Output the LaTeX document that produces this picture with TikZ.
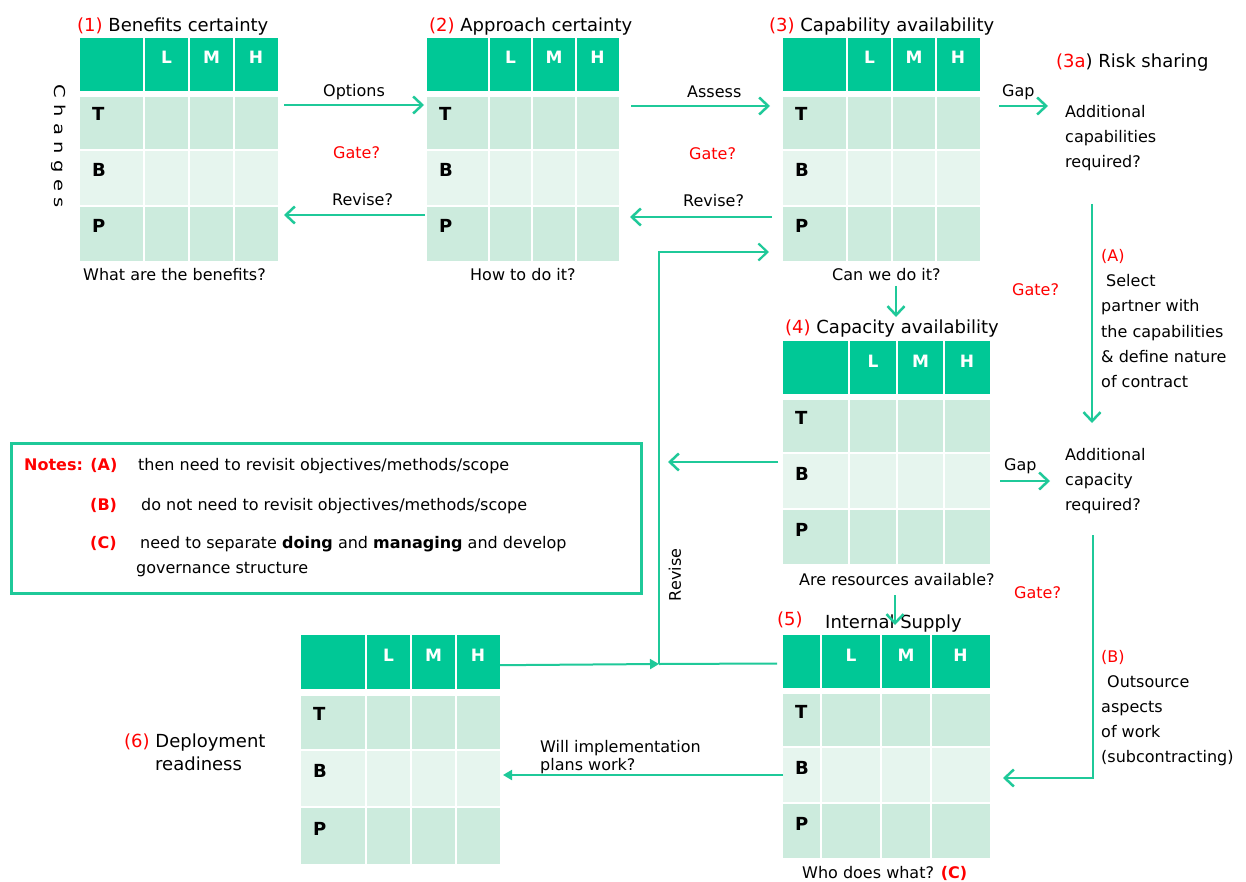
\documentclass[tikz,border=0pt]{standalone}
\usepackage{fontspec}
\setmainfont{DejaVu Sans}
\usetikzlibrary{arrows.meta,calc}
\definecolor{hdr}{HTML}{00C896}
\definecolor{rowA}{HTML}{CCEBDD}
\definecolor{rowB}{HTML}{E6F5EE}
\definecolor{ln}{HTML}{1FC999}
\definecolor{rd}{HTML}{FF0000}
\newcommand\mkgrid[8]{%
  \foreach \rw/\ya/\yb/\cc in {H/0/53/hdr,T/59/111/rowA,B/113/167/rowB,P/169/223/rowA}{
    \fill[\cc] (#2,#7+\ya*#8) rectangle (#3-1,#7+\yb*#8);
    \fill[\cc] (#3+1,#7+\ya*#8) rectangle (#4-1,#7+\yb*#8);
    \fill[\cc] (#4+1,#7+\ya*#8) rectangle (#5-1,#7+\yb*#8);
    \fill[\cc] (#5+1,#7+\ya*#8) rectangle (#6,#7+\yb*#8);
    \node[inner sep=0,outer sep=0,minimum width={(#6-#2)*1pt},minimum height={(\yb-\ya)*#8*1pt},anchor=north west] (#1\rw) at (#2,#7+\ya*#8) {};
  }
  \node[hl] (#1hL) at ({(#3+#4)/2},#7+26) {L};
  \node[hl] (#1hM) at ({(#4+#5)/2},#7+26) {M};
  \node[hl] (#1hH) at ({(#5+#6)/2},#7+26) {H};
  \node[rl] (#1rT) at (#2+12,#7+83*#8) {T};
  \node[rl] (#1rB) at (#2+12,#7+139*#8) {B};
  \node[rl] (#1rP) at (#2+12,#7+195*#8) {P};
}
\begin{document}
\begin{tikzpicture}[x=1pt,y=-1pt,
  lbl/.style={inner sep=0,anchor=base west,font=\fontsize{16}{19}\selectfont},
  ttl/.style={inner sep=0,anchor=base west,font=\fontsize{18}{21}\selectfont},
  gate/.style={lbl,text=rd},
  hl/.style={inner sep=0,anchor=base,font=\fontsize{17}{20}\selectfont\bfseries,text=white},
  rl/.style={inner sep=0,anchor=base west,font=\fontsize{18}{21}\selectfont\bfseries},
  flow/.style={draw=ln,line width=2.5pt,-{Straight Barb[length=9pt,width=17pt]}},
  lnk/.style={draw=ln,line width=2pt},
  tri/.style={lnk,-{Triangle[length=9pt,width=10pt]}}]
\useasboundingbox (0,0) rectangle (1246,882);
\fill[white] (0,0) rectangle (1246,882);
% grids
\mkgrid{ga}{80}{144}{189}{234}{278}{38}{1}
\mkgrid{gb}{427}{489}{532}{576}{619}{38}{1}
\mkgrid{gc}{783}{847}{892}{936}{980}{38}{1}
\mkgrid{gd}{783}{849}{897}{944}{990}{341}{1}
\mkgrid{ge}{783}{821}{881}{931}{990}{635}{1}
\mkgrid{gf}{301}{366}{411}{456}{500}{635}{1.026}
% titles
\node[ttl] (t1) at (77,32) {\textcolor{rd}{(1)} Benefits certainty};
\node[ttl] (t2) at (429,32) {\textcolor{rd}{(2)} Approach certainty};
\node[ttl] (t3) at (769,32) {\textcolor{rd}{(3)} Capability availability};
\node[ttl] (t3a) at (1056,68) {\textcolor{rd}{(3a}) Risk sharing};
\node[ttl] (t4) at (785,333) {\textcolor{rd}{(4)} Capacity availability};
\node[ttl] (t5n) at (777,625) {\textcolor{rd}{(5)}};
\node[ttl] (t5) at (825,628) {Internal Supply};
\node[ttl] (t6) at (124,747) {\textcolor{rd}{(6)} Deployment};
\node[ttl] (t6b) at (155,770) {readiness};
% side label
\node[inner sep=0,font=\fontsize{15}{18}\selectfont,rotate=-90] (chg) at (59,146)
  {\scalebox{1.3}[1]{C\kern5pt h\kern5pt a\kern5pt n\kern5pt g\kern5pt e\kern5pt s}};
% questions under grids
\node[lbl] (q1) at (83,280) {What are the benefits?};
\node[lbl] (q2) at (470,280) {How to do it?};
\node[lbl] (q3) at (832,280) {Can we do it?};
\node[lbl] (q4) at (799,585) {Are resources available?};
\node[lbl] (q5) at (802,878) {Who does what? \textcolor{rd}{\bfseries(C)}};
% arrow labels
\node[lbl] (lo) at (323,97) {Options};
\node[gate] (g1) at (333,159) {Gate?};
\node[lbl] (lr1) at (332,206) {Revise?};
\node[lbl] (la) at (687,98) {Assess};
\node[gate] (g2) at (689,160) {Gate?};
\node[lbl] (lr2) at (683,207) {Revise?};
\node[lbl] (gp1) at (1002,97) {Gap};
\node[gate] (g3) at (1012,295) {Gate?};
\node[lbl] (gp2) at (1004,470) {Gap};
\node[gate] (g4) at (1014,598) {Gate?};
\node[lbl,rotate=90,anchor=center] (rv) at (675,575) {Revise};
\node[lbl] (wi1) at (540,752) {Will implementation};
\node[lbl] (wi2) at (540,770) {plans work?};
% right texts
\node[lbl] (ac1) at (1065,118) {Additional};
\node[lbl] (ac2) at (1065,143) {capabilities};
\node[lbl] (ac3) at (1065,168) {required?};
\node[lbl,text=rd] (pa) at (1101,262) {(A)};
\node[lbl] (pa1) at (1106,287) {Select};
\node[lbl] (pa2) at (1101,312) {partner with};
\node[lbl] (pa3) at (1101,337) {the capabilities};
\node[lbl] (pa4) at (1101,362) {\& define nature};
\node[lbl] (pa5) at (1101,387) {of contract};
\node[lbl] (cp1) at (1065,460) {Additional};
\node[lbl] (cp2) at (1065,485) {capacity};
\node[lbl] (cp3) at (1065,510) {required?};
\node[lbl,text=rd] (pb) at (1101,662) {(B)};
\node[lbl] (pb1) at (1107,687) {Outsource};
\node[lbl] (pb2) at (1101,712) {aspects};
\node[lbl] (pb3) at (1101,737) {of work};
\node[lbl] (pb4) at (1101,762) {(subcontracting)};
% notes
\node[draw=ln,line width=2.5pt,inner sep=0,minimum width=630pt,minimum height=150pt,anchor=north west] (notes) at (10,442) {};
\node[lbl,text=rd,font=\fontsize{16}{19}\selectfont\bfseries] (na) at (24,470) {Notes: (A)};
\node[lbl] (nat) at (138,470) {then need to revisit objectives/methods/scope};
\node[lbl,text=rd,font=\fontsize{16}{19}\selectfont\bfseries] (nb) at (90,510) {(B)};
\node[lbl] (nbt) at (141,510) {do not need to revisit objectives/methods/scope};
\node[lbl,text=rd,font=\fontsize{16}{19}\selectfont\bfseries] (nc) at (90,548) {(C)};
\node[lbl] (nct) at (140,548) {need to separate \textbf{doing} and \textbf{managing} and develop};
\node[lbl] (nct2) at (136,573) {governance structure};
% connectors
\coordinate (a1) at (1092,204);
\coordinate (a2) at (1092,423);
\coordinate (b1) at (1093,535);
\coordinate (J) at (659,664);
\draw[flow] ($(gaT.north east)+(6,8)$) -- ($(gbT.north west)+(-3,8)$);
\draw[flow] ($(gbP.north west)+(-2,8)$) -- ($(gaP.north east)+(6,8)$);
\draw[flow] ($(gbT.north east)+(12,9)$) -- ($(gcT.north west)+(-13,9)$);
\draw[flow] ($(gcP.north west)+(-11,10)$) -- ($(gbP.north east)+(11,10)$);
\draw[flow] ($(gcT.north east)+(19,9)$) -- ($(gcT.north east)+(68,9)$);
\draw[flow] ($(gcP.south west)+(113,25)$) -- ($(gdH.north west)+(113,-24)$);
\draw[flow] (a1) -- (a2);
\draw[flow] ($(gdB.north east)+(10,27)$) -- ($(gdB.north east)+(60,27)$);
\draw[flow] ($(gdB.north west)+(-5,8)$) -- ($(gdB.north west)+(-115,8)$);
\draw[flow] ($(gdP.south west)+(112,31)$) -- ($(geH.north west)+(112,-10)$);
\draw[flow] (b1) |- ($(geB.north east)+(13,30)$);
\draw[tri] (geB.west) -- ($(geB.west -| gfB.east)+(3,0)$);
\draw[tri] ($(gfH.east)+(0,3)$) -- (J);
\draw[lnk] ($(geH.west)+(-6,2)$) -- (J);
\draw[flow,line width=2.2pt] (J) |- ($(gcP.north west)+(-14,45)$);
\end{tikzpicture}
\end{document}
